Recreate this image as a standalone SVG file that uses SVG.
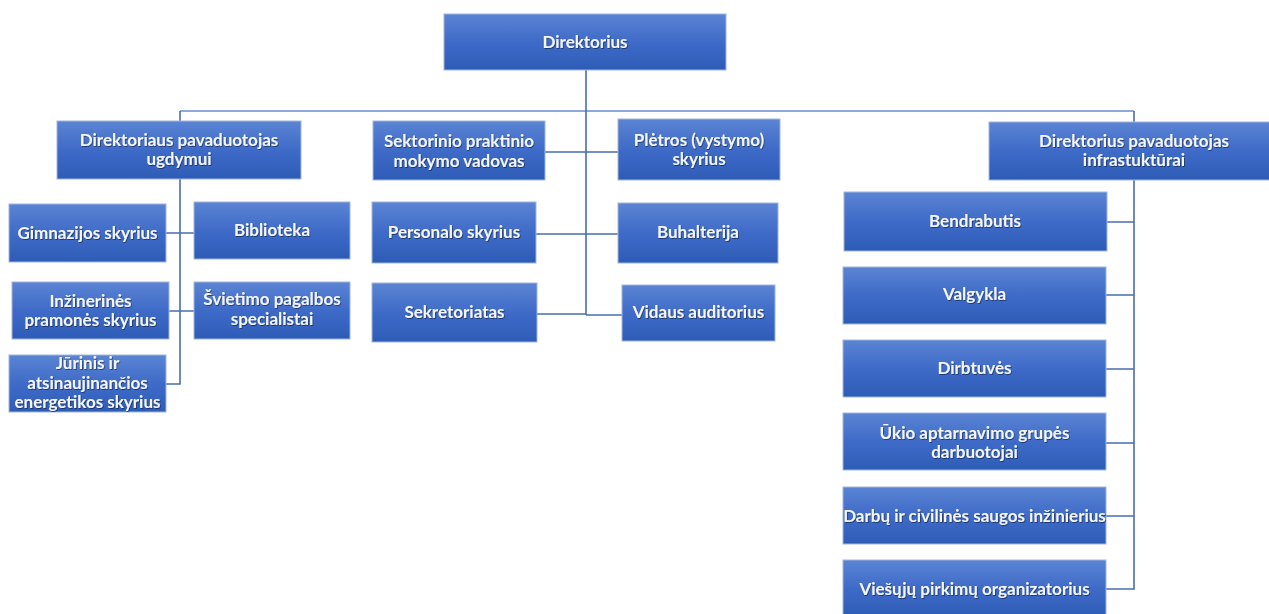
<svg xmlns="http://www.w3.org/2000/svg" width="1269" height="614" viewBox="0 0 1269 614">
<defs>
<linearGradient id="g" x1="0" y1="0" x2="0" y2="1">
<stop offset="0" stop-color="#5b84d3"/>
<stop offset="0.5" stop-color="#3f6bc8"/>
<stop offset="1" stop-color="#2d5cb6"/>
</linearGradient>
<filter id="ts" x="-10%" y="-30%" width="120%" height="160%">
<feDropShadow dx="0.8" dy="1" stdDeviation="0.7" flood-color="#000" flood-opacity="0.45"/>
</filter>
</defs>
<style>
.b{fill:url(#g);stroke:#9fb6e0;stroke-width:1}
.t{font-family:Lato,"Open Sans","Liberation Sans",sans-serif;font-weight:bold;font-size:17px;fill:#f4f6fb;text-anchor:middle;filter:url(#ts)}
.c{fill:none;stroke:#4a6cb3;stroke-width:1.6}
.c2{fill:none;stroke:#8ea9db;stroke-width:2}
</style>
<rect width="1269" height="614" fill="#fff"/>
<g id="connectors">
<path class="c2" d="M180,111 H1134"/>
<path class="c" d="M586,70 V315"/>
<path class="c" d="M180,111 V384 H166"/>
<path class="c" d="M1134,111 V589 H1106"/>
<path class="c" d="M166,233 H194 M169,311 H194"/>
<path class="c" d="M545,152 H618 M536,234 H618 M537,314 H586 M586,315 H622"/>
<path class="c" d="M1107,222 H1134 M1106,295 H1134 M1106,369 H1134 M1106,443 H1134 M1106,516 H1134"/>
</g>
<g id="direktorius"><rect class="b" x="444" y="14" width="282" height="56"/><text class="t" x="585" y="48">Direktorius</text></g>
<g id="ugdymui"><rect class="b" x="57" y="121" width="244" height="58"/><text class="t" x="179" y="146">Direktoriaus pavaduotojas</text><text class="t" x="179" y="165">ugdymui</text></g>
<g id="gimnazijos"><rect class="b" x="9" y="204" width="157" height="58"/><text class="t" x="87.5" y="239">Gimnazijos skyrius</text></g>
<g id="biblioteka"><rect class="b" x="194" y="202" width="156" height="57"/><text class="t" x="272" y="236">Biblioteka</text></g>
<g id="inzinerines"><rect class="b" x="12" y="282" width="157" height="57"/><text class="t" x="90.5" y="307">Inžinerinės</text><text class="t" x="90.5" y="326">pramonės skyrius</text></g>
<g id="svietimo"><rect class="b" x="194" y="282" width="156" height="57"/><text class="t" x="272" y="305">Švietimo pagalbos</text><text class="t" x="272" y="325">specialistai</text></g>
<g id="jurinis"><rect class="b" x="9" y="355" width="157" height="57"/><text class="t" x="87.5" y="369">Jūrinis ir</text><text class="t" x="87.5" y="389">atsinaujinančios</text><text class="t" x="87.5" y="408">energetikos skyrius</text></g>
<g id="sektorinio"><rect class="b" x="373" y="121" width="172" height="59"/><text class="t" x="459" y="147">Sektorinio praktinio</text><text class="t" x="459" y="167">mokymo vadovas</text></g>
<g id="pletros"><rect class="b" x="618" y="119" width="162" height="61"/><text class="t" x="699" y="146">Plėtros (vystymo)</text><text class="t" x="699" y="165">skyrius</text></g>
<g id="personalo"><rect class="b" x="372" y="202" width="164" height="61"/><text class="t" x="454" y="238">Personalo skyrius</text></g>
<g id="buhalterija"><rect class="b" x="618" y="203" width="160" height="60"/><text class="t" x="698" y="238">Buhalterija</text></g>
<g id="sekretoriatas"><rect class="b" x="372" y="283" width="165" height="59"/><text class="t" x="454.5" y="318">Sekretoriatas</text></g>
<g id="vidaus"><rect class="b" x="622" y="285" width="153" height="56"/><text class="t" x="698.5" y="318">Vidaus auditorius</text></g>
<g id="infrastrukturai"><rect class="b" x="989" y="122" width="290" height="58"/><text class="t" x="1134" y="147">Direktorius pavaduotojas</text><text class="t" x="1134" y="166">infrastuktūrai</text></g>
<g id="bendrabutis"><rect class="b" x="844" y="192" width="263" height="59"/><text class="t" x="975" y="227">Bendrabutis</text></g>
<g id="valgykla"><rect class="b" x="843" y="267" width="263" height="57"/><text class="t" x="974.5" y="300">Valgykla</text></g>
<g id="dirbtuves"><rect class="b" x="843" y="340" width="263" height="57"/><text class="t" x="974.5" y="374">Dirbtuvės</text></g>
<g id="ukio"><rect class="b" x="843" y="413" width="263" height="57"/><text class="t" x="974.5" y="439">Ūkio aptarnavimo grupės</text><text class="t" x="974.5" y="458">darbuotojai</text></g>
<g id="darbu"><rect class="b" x="843" y="487" width="263" height="57"/><text class="t" x="974.5" y="522">Darbų ir civilinės saugos inžinierius</text></g>
<g id="viesuju"><rect class="b" x="843" y="560" width="263" height="56"/><text class="t" x="974.5" y="595">Viešųjų pirkimų organizatorius</text></g>
</svg>
